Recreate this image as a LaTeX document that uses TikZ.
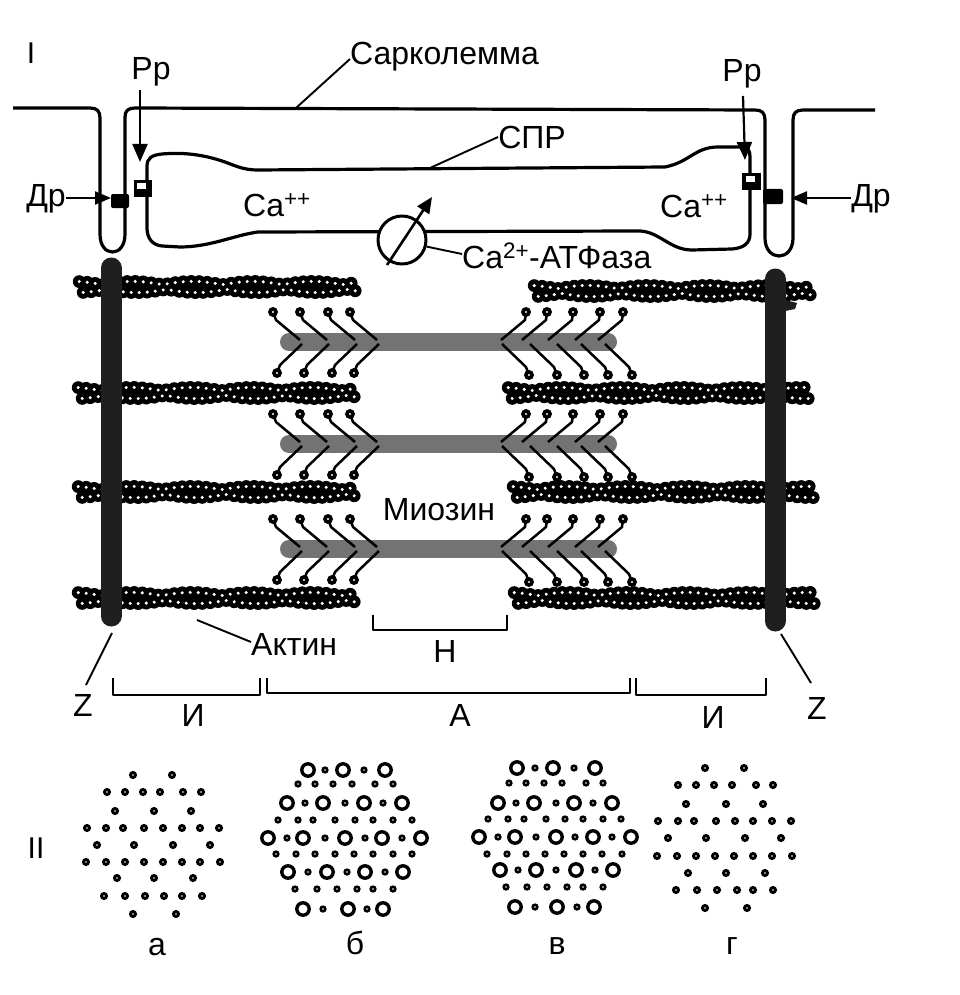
\documentclass[tikz,border=0pt]{standalone}
\usepackage{fontspec}
\setmainfont{Liberation Sans}
\usetikzlibrary{arrows.meta}
\newcommand\actinfil[3]{%
  \pgfmathtruncatemacro\nb{(#3-#2-16.4)/8}%
  \foreach \i in {0,...,\nb}{%
    \pgfmathsetmacro\xa{#2+6.2+8*\i}%
    \pgfmathsetmacro\dd{2.4+3.2*abs(cos(24*\i+20))}%
    \fill (\xa,#1-\dd) circle (6.4pt);
    \fill (\xa+4,#1+\dd) circle (6.4pt);
  }%
  \foreach \i in {0,...,\nb}{%
    \pgfmathsetmacro\xa{#2+6.2+8*\i}%
    \pgfmathsetmacro\dd{2.4+3.2*abs(cos(24*\i+20))}%
    \fill[white] (\xa,#1-\dd) circle (1.7pt);
    \fill[white] (\xa+4,#1+\dd) circle (1.7pt);
  }%
}
\newcommand\hball[2]{\fill (#1,#2) circle (5pt); \fill[white] (#1,#2) circle (1.2pt);}
\newcommand\myoheads[1]{%
  \foreach \bx in {273,300,328,350}{%
    \draw[hd] (\bx,#1-30) -- (\bx+3,#1-22) -- (\bx+27,#1-2); \hball{\bx}{#1-30}}%
  \foreach \bx in {277,304,332,354}{%
    \draw[hd] (\bx,#1+31) -- (\bx+3,#1+23) -- (\bx+25,#1+2); \hball{\bx}{#1+31}}%
  \foreach \bx in {526,547,573,600,623}{%
    \draw[hd] (\bx,#1-30) -- (\bx-1,#1-22) -- (\bx-25,#1-2); \hball{\bx}{#1-30}}%
  \foreach \bx in {529,557,584,608,632}{%
    \draw[hd] (\bx,#1+33) -- (\bx-3,#1+25) -- (\bx-27,#1+2); \hball{\bx}{#1+33}}%
}
\newcommand\sdot[3]{\fill (#1,#2) circle (#3pt); \fill[white] (#1,#2) circle (0.9pt);}
\newcommand\bring[2]{\draw[line width=3.4pt, fill=white] (#1,#2) circle (6.2pt);}
\begin{document}
\begin{tikzpicture}[x=1pt,y=-1pt, line join=round,
  memb/.style={line width=3.2pt},
  lead/.style={line width=1.9pt},
  hd/.style={line width=2.5pt},
  lab/.style={font=\fontsize{32}{37}\selectfont, inner sep=0pt},
  rom/.style={font=\fontsize{30}{34}\selectfont, inner sep=0pt},
  bigtip/.style={line width=2.2pt, -{Triangle[length=18pt,width=15pt]}},
  smalltip/.style={line width=2.2pt, -{Triangle[length=16pt,width=13pt]}},
  brk/.style={line width=2pt}]
\useasboundingbox[fill=white] (0,0) rectangle (959,995);

% ---------- sarcolemma with T-tubules
\draw[memb] (13,108) -- (90,108) .. controls (97,108) and (100,111) .. (100,118) -- (100,234)
  .. controls (100,246) and (106,252) .. (112.5,252) .. controls (119,252) and (125,246) .. (125,234)
  -- (125,117) .. controls (125,111) and (128,108) .. (135,108) -- (755,110)
  .. controls (762,110) and (765,113) .. (765,120) -- (765,238)
  .. controls (765,250) and (772,256) .. (779,256) .. controls (786,256) and (793,250) .. (793,238)
  -- (793,120) .. controls (793,113) and (796,110) .. (803,110) -- (875,110);

% ---------- sarcoplasmic reticulum
\draw[memb] (147,200) -- (147,166) .. controls (147,158) and (152,155) .. (162,154)
  .. controls (185,152) and (205,155) .. (225,162) .. controls (238,167) and (245,170) .. (258,170)
  -- (665,167) .. controls (690,162) and (695,147) .. (718,147) -- (742,147)
  .. controls (748,147) and (750,150) .. (750,157) -- (750,234)
  .. controls (750,243) and (744,248) .. (732,249) -- (692,250)
  .. controls (670,250) and (660,232) .. (640,231) -- (258,232)
  .. controls (235,235) and (210,247) .. (180,247) -- (162,246)
  .. controls (152,245) and (147,238) .. (147,228) -- cycle;

% receptors
\fill (134,180) rectangle (152,197); \fill[white] (137,183) rectangle (146,189);
\fill[rounded corners=2pt] (111,194) rectangle (129,208);
\fill (742,173) rectangle (761,190); \fill[white] (746,176) rectangle (755,182);
\fill[rounded corners=2pt] (763,189) rectangle (783,204);

% Ca pump
\node[draw, circle, line width=3pt, fill=white, minimum size=48pt, inner sep=0pt] (pump) at (402,240) {};
\coordinate (pumpA) at (387,265); \coordinate (pumpB) at (432,197);
\draw[line width=2.6pt, -{Triangle[length=16pt,width=14pt]}] (pumpA) -- (pumpB);

% ---------- labels top
\node[rom, anchor=base] (r1) at (31,64) {I};
\node[lab, anchor=base west] (sarc) at (350,65) {Сарколемма};
\coordinate (sarcP) at (296,108);
\draw[lead] (sarcP) -- (sarc.west |- 0,59) ;
\node[lab, anchor=base] (rpL) at (151,80) {Рр};
\node[lab, anchor=base] (rpR) at (742,82) {Рр};
\coordinate (rpLa) at (140,90); \coordinate (rpLb) at (140,162);
\coordinate (rpRa) at (743,96); \coordinate (rpRb) at (745,160);
\draw[bigtip] (rpLa) -- (rpLb);
\draw[bigtip] (rpRa) -- (rpRb);
\node[lab, anchor=base] (drL) at (46,207) {Др};
\node[lab, anchor=base] (drR) at (871,207) {Др};
\coordinate (drLb) at (111,198); \coordinate (drRb) at (791,198);
\draw[smalltip] (drL.east |- drLb) -- (drLb);
\draw[smalltip] (drR.west |- drRb) -- (drRb);
\node[lab, anchor=base] (spr) at (532,149) {СПР};
\coordinate (sprP) at (430,168);
\draw[lead] (sprP) -- (spr.west |- 0,137);
\node[lab, anchor=base west] (caL) at (243,216) {Ca\textsuperscript{++}};
\node[lab, anchor=base west] (caR) at (660,217) {Ca\textsuperscript{++}};
\node[lab, anchor=base west] (atp) at (462,268) {Ca\textsuperscript{2+}-АТФаза};
\draw[lead] (pump.-15) -- (atp.west |- 0,254);

% ---------- actin filaments
\actinfil{287}{73}{367}
\actinfil{393}{72}{367}
\actinfil{492}{72}{368}
\actinfil{598}{72}{368}
\actinfil{291}{528}{823}
\actinfil{393}{502}{817}
\actinfil{492}{507}{820}
\actinfil{598}{508}{822}

% ---------- Z discs
\draw[line width=21pt, line cap=round, black!88] (111,268) -- (111,616);
\draw[line width=21pt, line cap=round, black!88] (775,279) -- (775,621);
\fill[black!88] (785,300) -- (797,303) -- (795,309) -- (785,311) -- cycle;

% ---------- myosin
\foreach \yy in {342,444,549}{
  \draw[line width=18pt, line cap=round, black!55] (289,\yy) -- (608,\yy);
  \myoheads{\yy}
}
\node[lab, anchor=base] (myo) at (439,520) {Миозин};

% ---------- bottom labels and brackets
\node[lab, anchor=base west] (akt) at (251,655) {Актин};
\coordinate (aktP) at (197,620);
\draw[lead] (aktP) -- (akt.west |- 0,642);
\draw[brk] (373,615) -- (373,630) -- (507,630) -- (507,615);
\node[lab, anchor=base] (hh) at (445,662) {Н};
\node[lab, anchor=base] (zL) at (83,716) {Z};
\node[lab, anchor=base] (zR) at (817,719) {Z};
\coordinate (zLp) at (112,633); \coordinate (zRp) at (781,634);
\draw[lead] (zLp) -- (86,685);
\draw[lead] (zRp) -- (811,683);
\draw[brk] (113,678) -- (113,695) -- (260,695) -- (260,678);
\draw[brk] (267,678) -- (267,693) -- (630,693) -- (630,678);
\draw[brk] (636,678) -- (636,695) -- (766,695) -- (766,678);
\node[lab, anchor=base] (i1) at (193,726) {И};
\node[lab, anchor=base] (aa) at (460,726) {А};
\node[lab, anchor=base] (i2) at (713,728) {И};

% ---------- cross sections
\node[rom, anchor=base] (r2) at (36,858) {II};
% a
\foreach \yy/\xs in {775/{133,172}, 792/{107,125,143,160,183,201}, 811/{115,154,191},
  828/{87,106,123,144,163,182,200,219}, 845/{97,134,173,210}, 862/{86,106,125,144,163,182,200,220},
  878/{117,154,193}, 896/{104,125,145,164,182,202}, 914/{133,176}}{
  \foreach \xx in \xs {\sdot{\xx}{\yy}{4.1}}}
% g
\foreach \yy/\xs in {768/{705,744}, 785/{678,696,714,732,756,773}, 804/{686,726,763},
  821/{658,678,694,716,735,753,772,791}, 838/{668,706,745,781}, 856/{657,677,696,715,734,753,772,792},
  873/{688,726,765}, 890/{676,697,717,737,753,773}, 908/{705,747}}{
  \foreach \xx in \xs {\sdot{\xx}{\yy}{4.1}}}
% b
\foreach \yy/\xs in {770/{325,364}, 784/{298,315,333,352,375,393}, 803/{305,345,383},
  820/{278,298,313,335,355,373,393,412}, 838/{287,325,365,402}, 854/{276,296,315,335,354,373,393,412},
  872/{308,347,385}, 889/{295,317,337,357,373,393}, 909/{323,367}}{
  \foreach \xx in \xs {\sdot{\xx}{\yy}{3.7}}}
\foreach \yy/\xs in {770/{308,343,385}, 803/{287,323,364,402}, 838/{268,303,345,382,421},
  872/{288,327,365,403}, 909/{303,348,383}}{
  \foreach \xx in \xs {\bring{\xx}{\yy}}}
% v
\foreach \yy/\xs in {768/{535,574}, 783/{509,526,544,562,586,603}, 803/{516,556,593},
  819/{488,508,524,546,565,583,603,621}, 837/{498,536,575,612}, 854/{487,507,526,545,564,583,602,622},
  870/{518,556,595}, 887/{506,527,547,567,583,603}, 907/{535,577}}{
  \foreach \xx in \xs {\sdot{\xx}{\yy}{3.7}}}
\foreach \yy/\xs in {768/{517,553,595}, 803/{498,534,574,612}, 837/{479,515,556,593,631},
  870/{500,536,576,613}, 907/{515,557,594}}{
  \foreach \xx in \xs {\bring{\xx}{\yy}}}
\node[lab, anchor=base] (la) at (157,955) {а};
\node[lab, anchor=base] (lb) at (355,954) {б};
\node[lab, anchor=base] (lv) at (557,954) {в};
\node[lab, anchor=base] (lg) at (732,954) {г};
\end{tikzpicture}
\end{document}
